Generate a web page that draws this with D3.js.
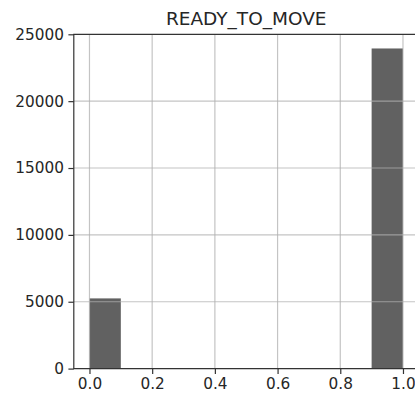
<!DOCTYPE html>
<html>
<head>
<meta charset="utf-8">
<script src="https://cdn.jsdelivr.net/npm/d3@7"></script>
<style>
  html, body { margin: 0; padding: 0; background: #fff; }
  svg { display: block; }
  text { font-family: "DejaVu Sans", sans-serif; fill: #262626; }
</style>
</head>
<body>
<svg id="chart" width="415" height="418"></svg>
<script>
// Histogram of READY_TO_MOVE: 10 equal-width bins on [0, 1]
const binEdges = [0.0, 0.1, 0.2, 0.3, 0.4, 0.5, 0.6, 0.7, 0.8, 0.9, 1.0];
const binCounts = [5250, 0, 0, 0, 0, 0, 0, 0, 0, 23940];
const xTicks = [0.0, 0.2, 0.4, 0.6, 0.8, 1.0];
const yTicks = [0, 5000, 10000, 15000, 20000, 25000];
const title = "READY_TO_MOVE";

(function draw() {
  const svg = d3.select("#chart");
  const W = 415;

  const plotLeft = 73.8, plotTop = 34.3, plotBottom = 368.6;
  const x = d3.scaleLinear().domain([-0.05, 1.05]).range([plotLeft, plotLeft + 1.1 * 313.5]);
  const y = d3.scaleLinear().domain([0, 25000]).range([plotBottom, plotTop]);

  svg.append("defs").append("clipPath").attr("id", "plot")
    .append("rect").attr("x", plotLeft).attr("y", plotTop)
    .attr("width", W - plotLeft).attr("height", plotBottom - plotTop);

  const bins = binCounts.map((c, i) => ({ x0: binEdges[i], x1: binEdges[i + 1], count: c }));

  // bars
  svg.append("g").attr("clip-path", "url(#plot)")
    .selectAll("rect").data(bins.filter(d => d.count > 0)).join("rect")
    .attr("x", d => x(d.x0))
    .attr("width", d => x(d.x1) - x(d.x0))
    .attr("y", d => y(d.count))
    .attr("height", d => y(0) - y(d.count))
    .attr("fill", "#616161");

  // grid drawn above the bars
  const grid = svg.append("g").attr("clip-path", "url(#plot)")
    .attr("stroke", "#b0b0b0").attr("stroke-opacity", 0.75).attr("stroke-width", 1.2);
  grid.selectAll(".gx").data(xTicks).join("line").attr("class", "gx")
    .attr("x1", d => x(d)).attr("x2", d => x(d))
    .attr("y1", plotTop).attr("y2", plotBottom);
  grid.selectAll(".gy").data(yTicks).join("line").attr("class", "gy")
    .attr("x1", plotLeft).attr("x2", W)
    .attr("y1", d => y(d)).attr("y2", d => y(d));

  // axes
  const xAxis = d3.axisBottom(x).tickValues(xTicks).tickFormat(d3.format(".1f"))
    .tickSize(5.4).tickPadding(4.5);
  const yAxis = d3.axisLeft(y).tickValues(yTicks).tickFormat(d3.format("d"))
    .tickSize(5.4).tickPadding(4.5);

  const gx = svg.append("g").attr("transform", `translate(0,${plotBottom})`).call(xAxis);
  const gy = svg.append("g").attr("transform", `translate(${plotLeft},0)`).call(yAxis);
  [gx, gy].forEach(g => {
    g.select(".domain").remove();
    g.selectAll(".tick line").attr("stroke", "#333").attr("stroke-width", 1.2);
    g.selectAll(".tick text").attr("font-size", "15.3px").attr("fill", "#262626")
      .attr("font-family", "DejaVu Sans, sans-serif");
  });

  // spines
  const spines = svg.append("g").attr("stroke", "#333").attr("stroke-width", 1.2);
  spines.append("line").attr("x1", plotLeft).attr("x2", plotLeft).attr("y1", plotTop).attr("y2", plotBottom);
  spines.append("line").attr("x1", plotLeft - 0.6).attr("x2", W).attr("y1", plotBottom).attr("y2", plotBottom);
  spines.append("line").attr("x1", plotLeft - 0.6).attr("x2", W).attr("y1", plotTop).attr("y2", plotTop);

  // title
  svg.append("text")
    .attr("x", (x(-0.05) + x(1.05)) / 2)
    .attr("y", plotTop - 9.2)
    .attr("text-anchor", "middle")
    .attr("font-size", "18.5px")
    .text(title);
})();
</script>
</body>
</html>
